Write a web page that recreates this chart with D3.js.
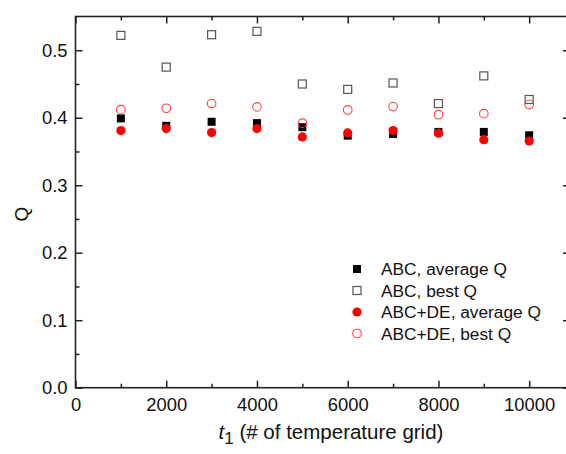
<!DOCTYPE html>
<html><head><meta charset="utf-8">
<script src="https://cdn.jsdelivr.net/npm/d3@7"></script>
<style>body{margin:0;background:#fff}svg{display:block}</style>
</head><body>
<svg id="c" width="566" height="454"></svg>
<script>
const t1 = [1000,2000,3000,4000,5000,6000,7000,8000,9000,10000];
const abcAvg   = [0.399,0.388,0.394,0.392,0.386,0.3735,0.376,0.379,0.379,0.374];
const abcBest  = [0.522,0.475,0.523,0.528,0.450,0.442,0.4515,0.421,0.462,0.427];
const deAvg    = [0.381,0.384,0.378,0.384,0.3715,0.3775,0.381,0.377,0.3675,0.3655];
const deBest   = [0.412,0.414,0.421,0.416,0.392,0.4115,0.4165,0.4045,0.406,0.4195];
const xTicks = [0,2000,4000,6000,8000,10000];
const xMinorTicks = [1000,3000,5000,7000,9000];
const yTicks = [0.0,0.1,0.2,0.3,0.4,0.5];
const yMinorTicks = [0.05,0.15,0.25,0.35,0.45];
const legendLabels = ["ABC, average Q","ABC, best Q","ABC+DE, average Q","ABC+DE, best Q"];

const svg = d3.select("#c");
const L=75.5, R=570, T=16.5, B=387.7;
const x = d3.scaleLinear().domain([0,10900]).range([L,R]);
const y = d3.scaleLinear().domain([0,0.55]).range([B,T]);
const font = "'Liberation Sans', Arial, sans-serif";

function styleAxis(sel){
  sel.select(".domain").remove();
  sel.selectAll(".tick line").attr("stroke","#222").attr("stroke-width",1.5);
  sel.selectAll(".tick text").attr("font-family",font).attr("font-size",18.4).attr("fill","#111");
}
// major + minor ticks via d3 axes
svg.append("g").attr("transform",`translate(0,${B})`)
  .call(d3.axisBottom(x).tickValues(xTicks).tickSize(-7).tickPadding(10.5).tickFormat(d3.format("d"))).call(styleAxis);
svg.append("g").attr("transform",`translate(0,${B})`)
  .call(d3.axisBottom(x).tickValues(xMinorTicks).tickSize(-4).tickFormat("")).call(styleAxis);
svg.append("g").attr("transform",`translate(0,${T})`)
  .call(d3.axisTop(x).tickValues(xTicks).tickSize(-7).tickFormat("")).call(styleAxis);
svg.append("g").attr("transform",`translate(0,${T})`)
  .call(d3.axisTop(x).tickValues(xMinorTicks).tickSize(-4).tickFormat("")).call(styleAxis);
svg.append("g").attr("transform",`translate(${L},0)`)
  .call(d3.axisLeft(y).tickValues(yTicks).tickSize(-7).tickPadding(8).tickFormat(d3.format(".1f"))).call(styleAxis);
svg.append("g").attr("transform",`translate(${L},0)`)
  .call(d3.axisLeft(y).tickValues(yMinorTicks).tickSize(-4).tickFormat("")).call(styleAxis);
svg.append("g").attr("transform",`translate(${R},0)`)
  .call(d3.axisRight(y).tickValues(yTicks).tickSize(-7).tickFormat("")).call(styleAxis);
svg.append("g").attr("transform",`translate(${R},0)`)
  .call(d3.axisRight(y).tickValues(yMinorTicks).tickSize(-4).tickFormat("")).call(styleAxis);

// frame
svg.append("rect").attr("x",L).attr("y",T).attr("width",R-L).attr("height",B-T)
  .attr("fill","none").attr("stroke","#222").attr("stroke-width",1.6);

// axis titles
const xt = svg.append("text").attr("x",331).attr("y",438.5).attr("text-anchor","middle")
  .attr("font-family",font).attr("font-size",20.5).attr("fill","#111");
xt.append("tspan").attr("font-style","italic").text("t");
xt.append("tspan").attr("dy",5).attr("font-size",17).text("1");
xt.append("tspan").attr("dy",-5).text(" (# of temperature grid)");
svg.append("text").attr("transform","translate(28,214) rotate(-90)").attr("text-anchor","middle")
  .attr("font-family",font).attr("font-size",19).attr("fill","#111").text("Q");

// markers
const sq = 8, r = 4.6;
const pts = (arr)=>t1.map((t,i)=>({t,v:arr[i]}));
function squares(data, filled){
  svg.append("g").selectAll("rect").data(data).join("rect")
    .attr("x",d=>x(d.t)-sq/2).attr("y",d=>y(d.v)-sq/2).attr("width",sq).attr("height",sq)
    .attr("fill",filled?"#000":"none").attr("stroke",filled?"none":"#555").attr("stroke-width",1.2);
}
function circles(data, filled){
  svg.append("g").selectAll("circle").data(data).join("circle")
    .attr("cx",d=>x(d.t)).attr("cy",d=>y(d.v)).attr("r",filled?r:r-0.3)
    .attr("fill",filled?"#ff0000":"none").attr("stroke",filled?"none":"#ff4040").attr("stroke-width",1.1);
}
squares(pts(abcAvg),true);
squares(pts(abcBest),false);
circles(pts(deAvg),true);
circles(pts(deBest),false);

// legend
const ly = [269,290.5,312,333.5];
const lx = 357;
const lg = svg.append("g");
lg.append("rect").attr("x",lx-4).attr("y",ly[0]-4).attr("width",8).attr("height",8).attr("fill","#000");
lg.append("rect").attr("x",lx-4).attr("y",ly[1]-4).attr("width",8).attr("height",8).attr("fill","none").attr("stroke","#555").attr("stroke-width",1.2);
lg.append("circle").attr("cx",lx).attr("cy",ly[2]).attr("r",4.6).attr("fill","#ff0000");
lg.append("circle").attr("cx",lx).attr("cy",ly[3]).attr("r",4.3).attr("fill","none").attr("stroke","#ff4040").attr("stroke-width",1.1);
lg.selectAll("text").data(legendLabels).join("text")
  .attr("x",381).attr("y",(d,i)=>ly[i]+6).attr("font-family",font).attr("font-size",17.3).attr("fill","#111")
  .text(d=>d);
</script>
</body></html>
